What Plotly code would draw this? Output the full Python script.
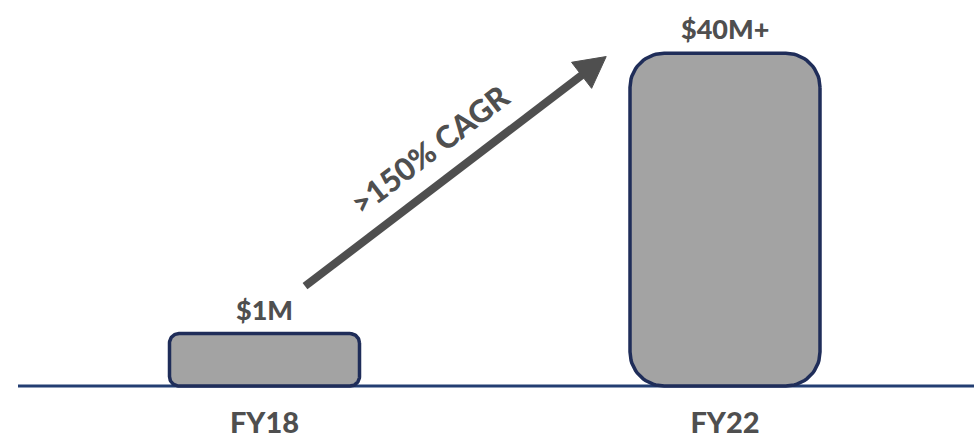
import math
import numpy as np
import plotly.graph_objects as go

# ---------------- data ----------------
categories = ["FY18", "FY22"]
bar_heights = [6.3, 40.0]          # drawn (schematic) bar heights
value_labels = ["$1M", "$40M+"]
cagr_label = ">150% CAGR"
arrow_start = (0.088, 12.0)        # arrow annotation, data coords
arrow_end = (0.742, 39.6)

# ---------------- layout constants ----------------
W, H = 974, 439
MB = 44
PLOT_H = H - MB
X_C0 = 264.5      # pixel of first category
X_UNIT = 460.5    # pixels per category step
Y_ZERO = 388      # pixel of y=0
Y_UNIT = 8.3625   # pixels per y unit

x_range = [-X_C0 / X_UNIT, (W - X_C0) / X_UNIT]
y_range = [(Y_ZERO - PLOT_H) / Y_UNIT, Y_ZERO / Y_UNIT]

GRAY_TXT = "#4f4f4f"
BAR_FILL = "#a3a3a3"
BAR_LINE = "#1f2d59"
BASE_LINE = "#233e72"
ARROW_C = "#4f4f4f"
FONT = "Lato"


def to_px(x, y):
    return X_C0 + x * X_UNIT, Y_ZERO - y * Y_UNIT


def to_data(px, py):
    return (px - X_C0) / X_UNIT, (Y_ZERO - py) / Y_UNIT


def rounded_rect(cx, w, h, r_px, n=20):
    rx, ry = r_px / X_UNIT, r_px / Y_UNIT
    x0, x1 = cx - w / 2, cx + w / 2
    y0, y1 = 0.0, h
    xs, ys = [], []
    corners = [(x1 - rx, y1 - ry, 0, 90), (x0 + rx, y1 - ry, 90, 180),
               (x0 + rx, y0 + ry, 180, 270), (x1 - rx, y0 + ry, 270, 360)]
    for ccx, ccy, a0, a1 in corners:
        t = np.radians(np.linspace(a0, a1, n))
        xs += list(ccx + rx * np.cos(t))
        ys += list(ccy + ry * np.sin(t))
    xs.append(xs[0])
    ys.append(ys[0])
    return xs, ys


fig = go.Figure()

bar_w = 190 / X_UNIT
for i, (cat, h) in enumerate(zip(categories, bar_heights)):
    h_px = h * Y_UNIT
    r = 0.18 * min(190, h_px)
    xs, ys = rounded_rect(i, bar_w, h, r)
    fig.add_trace(go.Scatter(x=xs, y=ys, mode="lines", fill="toself",
                             fillcolor=BAR_FILL,
                             line=dict(color=BAR_LINE, width=3.5),
                             hoverinfo="skip", showlegend=False))
    fig.add_annotation(x=i, y=h, text=value_labels[i], showarrow=False,
                       yanchor="bottom", yshift=6,
                       font=dict(family=FONT, size=27, color=GRAY_TXT, weight=900))

# arrow
sx, sy = to_px(*arrow_start)
ex, ey = to_px(*arrow_end)
L = math.hypot(ex - sx, ey - sy)
ux, uy = (ex - sx) / L, (ey - sy) / L
head_len, head_half = 31, 16.5
bx, by = ex - ux * head_len, ey - uy * head_len
nx, ny = -uy, ux
tri_px = [(ex, ey), (bx + nx * head_half, by + ny * head_half),
          (bx - nx * head_half, by - ny * head_half), (ex, ey)]
tri = [to_data(px, py) for px, py in tri_px]
shaft_end = to_data(bx + ux * 3, by + uy * 3)
fig.add_trace(go.Scatter(x=[arrow_start[0], shaft_end[0]], y=[arrow_start[1], shaft_end[1]],
                         mode="lines", line=dict(color=ARROW_C, width=8),
                         hoverinfo="skip", showlegend=False))
fig.add_trace(go.Scatter(x=[p[0] for p in tri], y=[p[1] for p in tri], mode="lines",
                         fill="toself", fillcolor=ARROW_C, line=dict(color=ARROW_C, width=1),
                         hoverinfo="skip", showlegend=False))

angle = math.degrees(math.atan2(sy - ey, ex - sx))
tx, ty = to_data(430, 150)
fig.add_annotation(x=tx, y=ty, text=cagr_label, showarrow=False, textangle=-angle,
                   font=dict(family=FONT, size=31, color=GRAY_TXT, weight=900))

# baseline
fig.add_shape(type="line", xref="paper", yref="y", x0=18 / W, x1=1, y0=0, y1=0,
              line=dict(color=BASE_LINE, width=3), layer="below")

fig.update_layout(
    width=W, height=H,
    margin=dict(l=0, r=0, t=0, b=MB),
    paper_bgcolor="white", plot_bgcolor="white",
    xaxis=dict(range=x_range, tickvals=list(range(len(categories))), ticktext=categories,
               showgrid=False, zeroline=False, showline=False, ticks="",
               ticklabelstandoff=10,
               tickfont=dict(family=FONT, size=29, color=GRAY_TXT, weight=900),
               fixedrange=True),
    yaxis=dict(range=y_range, visible=False, fixedrange=True),
    showlegend=False,
)

fig.write_html("out.html")
